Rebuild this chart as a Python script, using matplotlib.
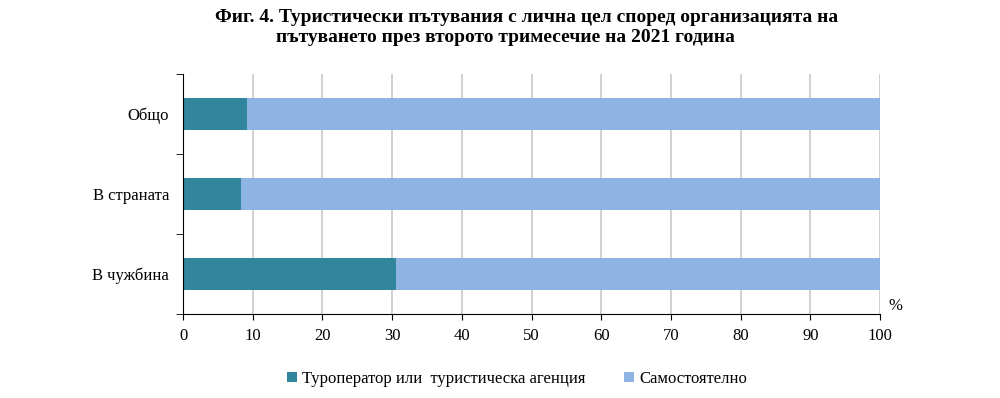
import matplotlib
matplotlib.use("Agg")
import matplotlib.pyplot as plt
import numpy as np

plt.rcParams['font.family'] = ['Liberation Serif', 'DejaVu Serif']

# данни
categories = ['Общо', 'В страната', 'В чужбина']
agency = [9.2, 8.3, 30.6]
independent = [90.8, 91.7, 69.4]
series_names = ['Туроператор или  туристическа агенция', 'Самостоятелно']
c_agency = '#31859C'
c_indep = '#8EB4E3'

fig = plt.figure(figsize=(10, 3.98), dpi=100)
ax = fig.add_axes([0.183, 0.211, 0.697, 0.603])

y = np.arange(len(categories))[::-1]
ax.barh(y, agency, height=0.4, color=c_agency, label=series_names[0], zorder=3)
ax.barh(y, independent, left=agency, height=0.4, color=c_indep, label=series_names[1], zorder=3)

ax.set_xlim(0, 100)
ax.set_ylim(-0.5, 2.5)
ax.set_xticks(range(0, 101, 10))
ax.tick_params(axis='x', labelsize=12, length=4, direction='out', pad=6)
ax.set_yticks(y)
ax.set_yticklabels(categories, fontsize=12)
ax.tick_params(axis='y', length=0, pad=10)
ax.set_yticks([-0.5, 0.5, 1.5, 2.5], minor=True)
ax.tick_params(axis='y', which='minor', length=5)
ax.grid(axis='x', color='#C8C8C8', linewidth=1.2, zorder=0)
for s in ['top', 'right']:
    ax.spines[s].set_visible(False)
ax.spines['left'].set_color('black')
ax.spines['bottom'].set_color('black')
ax.spines['left'].set_zorder(4)
ax.spines['bottom'].set_zorder(4)

fig.text(0.895, 0.222, '%', fontsize=12, ha='center')

fig.text(0.527, 0.955, 'Фиг. 4. Туристически пътувания с лична цел според организацията на',
         fontsize=14, fontweight='bold', ha='center', va='center')
fig.text(0.505, 0.905, 'пътуването през второто тримесечие на 2021 година',
         fontsize=14, fontweight='bold', ha='center', va='center')

fig.legend(loc='center', bbox_to_anchor=(0.517, 0.048), ncol=2, frameon=False,
           fontsize=12, handlelength=0.6, handleheight=0.6, handletextpad=0.3,
           columnspacing=2.3)

fig.savefig('out.png', dpi=100)
